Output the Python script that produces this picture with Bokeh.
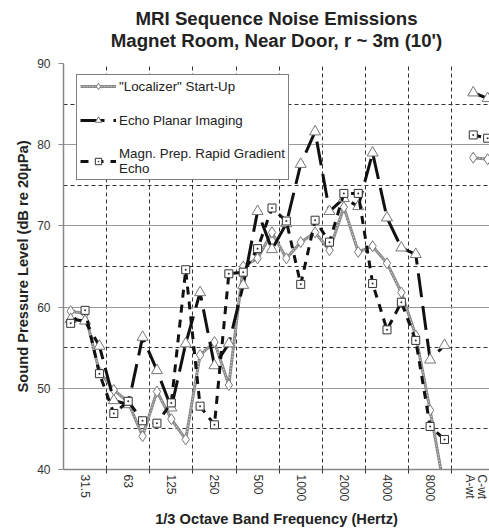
import math
from bokeh.plotting import figure
from bokeh.models import Range1d, FixedTicker, Grid, Legend, LegendItem, Title
from bokeh.embed import file_html
from bokeh.resources import INLINE

# 1/3 octave bands (Hz)
bands = ["25", "31.5", "40", "50", "63", "80", "100", "125", "160", "200",
         "250", "315", "400", "500", "630", "800", "1000", "1250", "1600",
         "2000", "2500", "3150", "4000", "5000", "6300", "8000", "10000"]
wt_labels = ["A-wt", "C-wt"]

# dB re 20 uPa
localizer = [59.5, 59.2, 52.0, 49.8, 48.3, 44.1, 49.6, 46.2, 43.7, 54.1,
             55.7, 50.4, 65.0, 66.0, 69.2, 66.0, 68.0, 69.2, 67.0, 72.3,
             66.8, 67.5, 65.4, 61.8, 56.5, 47.3, 37.5]
localizer_wt = [78.4, 78.2]

epi = [58.5, 58.3, 55.2, 48.5, 48.0, 56.3, 52.2, 47.6, 55.5, 61.8,
       52.8, 55.5, 62.7, 71.8, 67.1, 70.3, 77.6, 81.6, 71.8, 73.4,
       72.4, 79.0, 71.0, 67.3, 66.5, 53.5, 55.3]
epi_wt = [86.4, 85.7]

mprage = [58.0, 59.6, 51.8, 46.9, 48.4, 46.0, 45.7, 48.2, 64.6, 47.8,
          45.5, 64.1, 64.3, 67.2, 72.2, 70.6, 62.8, 70.7, 68.0, 74.0,
          74.0, 62.9, 57.2, 60.6, 55.9, 45.3, 43.7]
mprage_wt = [81.2, 80.8]

y_ticks = [40, 50, 60, 70, 80, 90]
y_half = [45, 55, 65, 75, 85]

title_lines = ["MRI Sequence Noise Emissions", "Magnet Room, Near Door, r ~ 3m (10')"]

FONT = "Liberation Sans"

n = len(bands)
x_all = list(range(n)) + [n, n + 1, n + 2]          # slot n left empty


def series(vals, wt):
    return vals + [math.nan] + wt


p = figure(width=489, height=530, output_backend="svg", toolbar_location=None,
           x_range=Range1d(-0.5, 29.13), y_range=Range1d(40, 90),
           min_border_left=63, min_border_right=0, min_border_top=63,
           min_border_bottom=59, title=None)
p.outline_line_color = None
p.background_fill_color = "white"
p.border_fill_color = "white"

# titles (first added is closest to plot)
t2 = Title(text=title_lines[1], align="center", vertical_align="top",
           text_font=FONT, text_font_size="18.67px", text_font_style="bold",
           text_color="#222222", standoff=22)
t1 = Title(text=title_lines[0], align="center", vertical_align="bottom",
           text_font=FONT, text_font_size="18.67px", text_font_style="bold",
           text_color="#222222", standoff=-20)
p.add_layout(t2, "above")
p.add_layout(t1, "above")

# grids
boundaries = [i + 2.5 for i in range(0, 27, 3)]
p.xgrid.ticker = FixedTicker(ticks=boundaries)
p.xgrid.grid_line_color = "#333333"
p.xgrid.grid_line_dash = "4 3"
p.xgrid.grid_line_width = 1
p.ygrid.ticker = FixedTicker(ticks=y_ticks[1:])
p.ygrid.grid_line_color = "#999999"
p.ygrid.grid_line_width = 1
half_grid = Grid(dimension=1, ticker=FixedTicker(ticks=y_half),
                 grid_line_color="#333333", grid_line_dash="4 3", grid_line_width=1)
p.add_layout(half_grid)

# x axis
label_pos = list(range(1, n, 3)) + [27.8, 28.6]
label_txt = bands[1::3] + wt_labels
xa = p.xaxis[0]
xa.ticker = FixedTicker(ticks=label_pos, minor_ticks=boundaries)
xa.major_label_overrides = {pos: txt for pos, txt in zip(label_pos, label_txt)}
xa.major_label_orientation = "vertical"
xa.major_tick_line_color = None
xa.major_tick_out = 4
xa.major_tick_in = 0
xa.minor_tick_out = 4
xa.minor_tick_in = 0
xa.minor_tick_line_color = "#333333"
xa.major_label_standoff = 1
xa.axis_line_color = "#888888"
xa.axis_line_width = 1.5
xa.major_label_text_font = FONT
xa.major_label_text_font_size = "12px"
xa.major_label_text_color = "#333333"
xa.axis_label = "1/3 Octave Band Frequency (Hertz)"
xa.axis_label_text_font = FONT
xa.axis_label_text_font_size = "14.67px"
xa.axis_label_text_font_style = "bold"
xa.axis_label_text_color = "#222222"
xa.axis_label_standoff = 7

# y axis
ya = p.yaxis[0]
ya.ticker = FixedTicker(ticks=y_ticks)
ya.minor_tick_line_color = None
ya.major_tick_out = 5
ya.major_tick_in = 0
ya.major_tick_line_color = "#888888"
ya.major_label_standoff = 8
ya.axis_line_color = "#888888"
ya.axis_line_width = 1.5
ya.major_label_text_font = FONT
ya.major_label_text_font_size = "12px"
ya.major_label_text_color = "#333333"
ya.axis_label = "Sound Pressure Level (dB re 20\u00b5Pa)"
ya.axis_label_text_font = FONT
ya.axis_label_text_font_size = "14.67px"
ya.axis_label_text_font_style = "bold"
ya.axis_label_text_color = "#222222"
ya.axis_label_standoff = 3

# series
y_loc = series(localizer, localizer_wt)
y_epi = series(epi, epi_wt)
y_mp = series(mprage, mprage_wt)

loc_base = p.line(x_all, y_loc, line_color="#8a8a8a", line_width=3)
loc_over = p.line(x_all, y_loc, line_color="#e6e6e6", line_width=1, line_dash="1 2")
loc_mk = p.scatter(x_all, y_loc, marker="diamond", size=11, line_color="#777777",
                   fill_color="white", line_width=1)

epi_line = p.line(x_all, y_epi, line_color="#111111", line_width=3, line_dash="24 9")
epi_mk = p.scatter(x_all, y_epi, marker="triangle", size=11, line_color="#777777",
                   fill_color="white", line_width=1)

mp_line = p.line(x_all, y_mp, line_color="#111111", line_width=3, line_dash="8 7")
mp_mk = p.scatter(x_all, y_mp, marker="square_dot", size=8, line_color="#333333",
                  fill_color="white", line_width=1)

legend = Legend(items=[
    LegendItem(label="\"Localizer\" Start-Up", renderers=[loc_base, loc_over, loc_mk]),
    LegendItem(label="Echo Planar Imaging", renderers=[epi_line, epi_mk]),
    LegendItem(label="Magn. Prep. Rapid Gradient\nEcho", renderers=[mp_line, mp_mk]),
], location=(13, 289))
legend.border_line_color = "black"
legend.border_line_width = 1
legend.background_fill_color = "white"
legend.background_fill_alpha = 1
legend.label_text_font = FONT
legend.label_text_font_size = "13.33px"
legend.label_text_color = "#222222"
legend.glyph_width = 36
legend.glyph_height = 16
legend.label_height = 16
legend.label_standoff = 3
legend.padding = 3
legend.spacing = 18
legend.margin = 0
p.add_layout(legend, "center")

open("out.html", "w").write(file_html(p, INLINE))
